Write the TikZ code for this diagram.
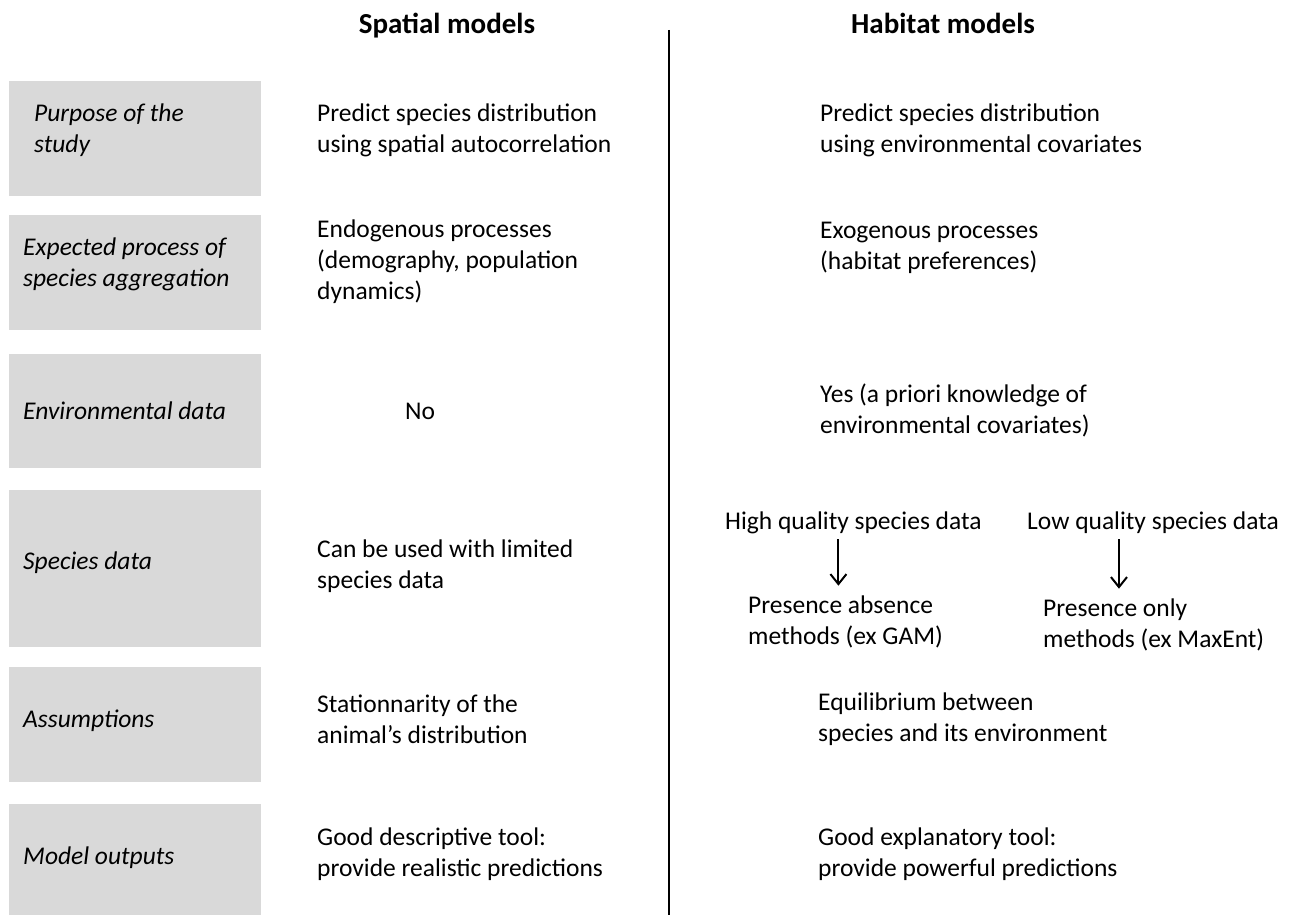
\documentclass[tikz,border=0pt]{standalone}
\usepackage{fontspec}
\setmainfont{Carlito}
\usetikzlibrary{calc,arrows.meta}
\definecolor{boxgray}{HTML}{D9D9D9}
\tikzset{
  rowbox/.style={fill=boxgray,anchor=north west,inner sep=0pt,minimum width=252pt},
  lbl/.style={anchor=west,align=left,inner sep=0pt,font=\itshape\fontsize{25.5}{31}\selectfont},
  txt/.style={anchor=west,align=left,inner sep=0pt,font=\fontsize{25.5}{31}\selectfont},
  hdr/.style={anchor=base,inner sep=0pt,font=\bfseries\fontsize{29}{34}\selectfont},
  arr/.style={-{Straight Barb[length=10pt,width=16pt]},line width=2pt}
}
\begin{document}
\begin{tikzpicture}[x=1pt,y=-1pt]
\useasboundingbox (0,0) rectangle (1301,915);
% grey row labels
\foreach \i/\ytop/\hgt/\xl/\yl/\t in {1/81/115/34/130/{Purpose of the\\study},
	2/215/115/23/264/{Expected process of\\species aggregation},
	3/354/114/23/411/{Environmental data},
	4/490/157/23/563/{Species data},
	5/667/115/23/721/{Assumptions},
	6/804/111/23/858/{Model outputs}} {
	\node[rowbox,minimum height=\hgt pt] (box\i) at (9,\ytop) {};
	\node[lbl] (lbl\i) at (\xl,\yl) {\t};
}
\node[hdr] (hsp) at (447,34) {Spatial models};
\node[hdr] (hhb) at (943,34) {Habitat models};
\coordinate (ltop) at (669,30);
\coordinate (lbot) at (669,915);
\draw[line width=2.4pt] (ltop) -- (lbot);
% spatial models
\node[txt] (sp1) at (317,130) {Predict species distribution\\using spatial autocorrelation};
\node[txt] (sp2) at (317,262) {Endogenous processes\\(demography, population\\dynamics)};
\node[txt] (sp3) at (405,411) {No};
\node[txt] (sp4) at (317,566) {Can be used with limited\\species data};
\node[txt] (sp5) at (317,719) {Stationnarity of the\\animal's distribution};
\node[txt] (sp6) at (317,854) {Good descriptive tool:\\provide realistic predictions};
% habitat models
\node[txt] (hb1) at (820,130) {Predict species distribution\\using environmental covariates};
\node[txt] (hb2) at (820,248) {Exogenous processes\\(habitat preferences)};
\node[txt] (hb3) at (820,410) {Yes (a priori knowledge of\\environmental covariates)};
\node[txt] (hq) at (725,523) {High quality species data};
\node[txt] (lq) at (1027,523) {Low quality species data};
\node[txt] (pa) at (748,622) {Presence absence\\methods (ex GAM)};
\node[txt] (po) at (1043,625) {Presence only\\methods (ex MaxEnt)};
\node[txt] (hb5) at (818,719) {Equilibrium between\\species and its environment};
\node[txt] (hb6) at (818,854) {Good explanatory tool:\\provide powerful predictions};
\draw[arr] ($(hq.south)+(-15,5)$) -- ($(hq.south |- pa.north)+(-15,-10)$);
\draw[arr] ($(lq.south)+(-34,5)$) -- ($(lq.south |- po.north)+(-34,-10)$);
\end{tikzpicture}
\end{document}
